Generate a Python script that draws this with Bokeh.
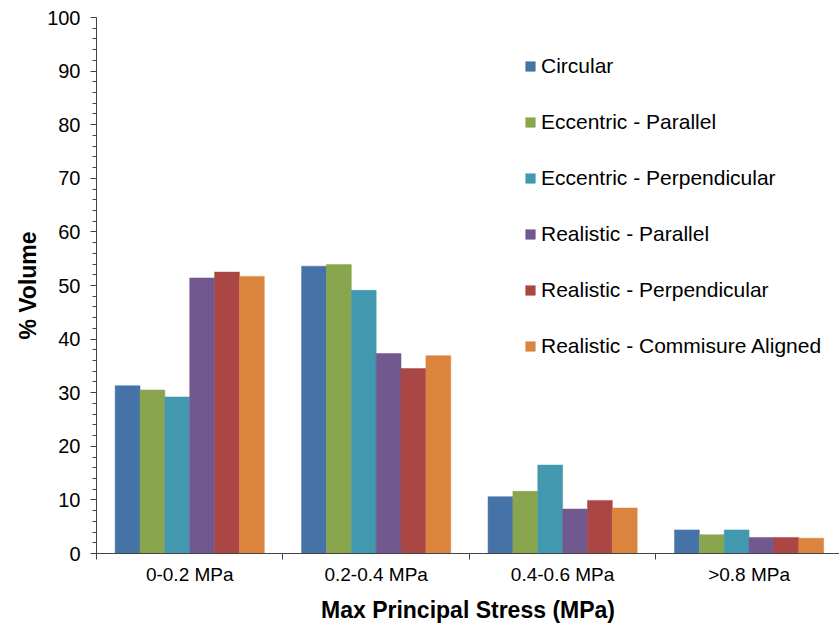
from bokeh.plotting import figure
from bokeh.models import Range1d, FixedTicker, SingleIntervalTicker, Legend, LegendItem
from bokeh.embed import file_html
from bokeh.resources import INLINE

categories = ["0-0.2 MPa", "0.2-0.4 MPa", "0.4-0.6 MPa", ">0.8 MPa"]
series_names = ["Circular", "Eccentric - Parallel", "Eccentric - Perpendicular",
                "Realistic - Parallel", "Realistic - Perpendicular",
                "Realistic - Commisure Aligned"]
circular = [31.3, 53.6, 10.6, 4.4]
ecc_parallel = [30.5, 53.9, 11.6, 3.5]
ecc_perpendicular = [29.2, 49.1, 16.5, 4.4]
real_parallel = [51.4, 37.3, 8.3, 3.0]
real_perpendicular = [52.5, 34.5, 9.9, 3.0]
real_commisure = [51.7, 36.9, 8.5, 2.85]
colors = ["#4572A7", "#89A54E", "#4198AF", "#71588F", "#AA4643", "#DB843D"]

series = [circular, ecc_parallel, ecc_perpendicular, real_parallel,
          real_perpendicular, real_commisure]

FONT = "Liberation Sans"

p = figure(width=839, height=625, output_backend="svg", toolbar_location=None,
           x_range=Range1d(0, 3.985), y_range=Range1d(0, 100),
           min_border_left=96, min_border_right=0, min_border_top=17,
           min_border_bottom=72)
p.outline_line_color = None
p.xgrid.visible = False
p.ygrid.visible = False
p.background_fill_color = "white"
p.border_fill_color = "white"

n = len(series)
w = 0.8 / n
items = []
for j, (vals, name, col) in enumerate(zip(series, series_names, colors)):
    xs = [i + 0.5 + (j - (n - 1) / 2) * w for i in range(len(categories))]
    r = p.vbar(x=xs, top=vals, width=w, bottom=0, fill_color=col,
               line_color=col, line_width=0.5)
    items.append(LegendItem(label=name, renderers=[r]))

# y axis
ya = p.yaxis[0]
ya.ticker = SingleIntervalTicker(interval=10, num_minor_ticks=5)
ya.axis_label = "% Volume"
ya.axis_label_text_font = FONT
ya.axis_label_text_font_style = "bold"
ya.axis_label_text_font_size = "23px"
ya.axis_label_text_color = "black"
ya.axis_label_standoff = 3
ya.major_label_text_font = FONT
ya.major_label_text_font_size = "20px"
ya.major_label_text_color = "black"
ya.major_label_standoff = 10
ya.major_tick_out = 6
ya.major_tick_in = 0
ya.minor_tick_out = 4
ya.minor_tick_in = 0
ya.axis_line_color = "#444444"
ya.major_tick_line_color = "#444444"
ya.minor_tick_line_color = "#444444"

# x axis: labels at category centres, tick marks at boundaries
xa = p.xaxis[0]
centers = [i + 0.5 for i in range(len(categories))]
bounds = [float(i) for i in range(len(categories) + 1)]
xa.ticker = FixedTicker(ticks=centers, minor_ticks=bounds)
xa.major_label_overrides = {c: lab for c, lab in zip(centers, categories)}
xa.major_tick_line_color = None
xa.major_tick_out = 0
xa.minor_tick_out = 6
xa.minor_tick_in = 0
xa.minor_tick_line_color = "#444444"
xa.axis_line_color = "#444444"
xa.major_label_text_font = FONT
xa.major_label_text_font_size = "19px"
xa.major_label_text_color = "black"
xa.major_label_standoff = 4
xa.axis_label = "Max Principal Stress (MPa)"
xa.axis_label_text_font = FONT
xa.axis_label_text_font_style = "bold"
xa.axis_label_text_font_size = "23px"
xa.axis_label_text_color = "black"
xa.axis_label_standoff = 9

legend = Legend(items=items, location=(428, 195), orientation="vertical",
                border_line_color=None, background_fill_alpha=0,
                padding=0, margin=0, spacing=32, label_height=22,
                glyph_width=12, glyph_height=12, label_standoff=5,
                label_text_font=FONT, label_text_font_size="21px",
                label_text_color="black")
p.add_layout(legend)

open("out.html", "w").write(file_html(p, INLINE))
